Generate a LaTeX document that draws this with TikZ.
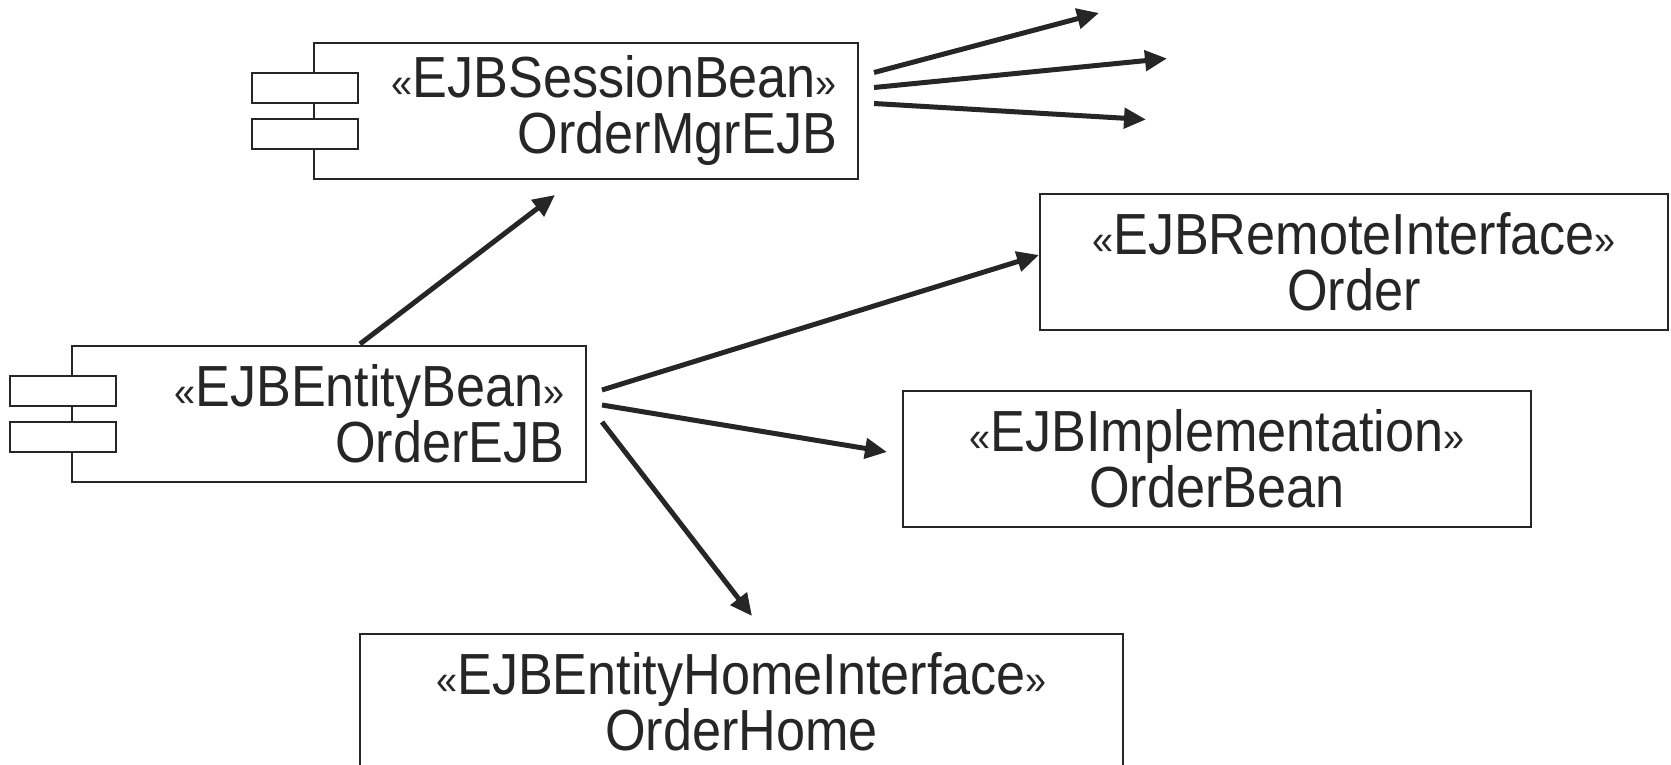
\documentclass[tikz,border=0pt]{standalone}
\usepackage{fontspec}
\setmainfont[FakeStretch=0.9]{Liberation Sans}
\usetikzlibrary{arrows.meta}
\definecolor{ink}{HTML}{262626}
\newcommand{\stereo}[1]{{\fontsize{21}{21}\selectfont«}#1{\fontsize{21}{21}\selectfont»}}
\begin{document}
\begin{tikzpicture}[x=0.5pt,y=-0.5pt,>={Triangle[length=11pt,width=10pt]},
    box/.style={draw=ink,line width=1pt,inner sep=0pt,minimum height=68pt,
        font=\fontsize{29}{28}\selectfont,text=ink},
    port/.style={draw=ink,fill=white,line width=1pt,inner sep=0pt,
        minimum width=53pt,minimum height=15pt},
    link/.style={->,draw=ink,line width=2.5pt}]
    \useasboundingbox (0,0) rectangle (1671,765);
    \clip (0,0) rectangle (1671,765);

    % Componentes
    \node[box,minimum width=272pt,text width=251pt,align=right] (session) at (586,111)
        {\stereo{EJBSessionBean}\\OrderMgrEJB};
    \node[port] (sessiontop) at ([xshift=-4pt,yshift=11.5pt]session.west) {};
    \node[port] (sessionbot) at ([xshift=-4pt,yshift=-11.5pt]session.west) {};

    \node[box,minimum width=257pt,text width=236pt,align=right] (entity) at (328.5,414)
        {\stereo{EJBEntityBean}\\OrderEJB};
    \node[port] (entitytop) at ([xshift=-4pt,yshift=11.5pt]entity.west) {};
    \node[port] (entitybot) at ([xshift=-4pt,yshift=-11.5pt]entity.west) {};

    % Clases
    \node[box,minimum width=314pt,align=center] (remote) at (1354,262)
        {\stereo{EJBRemoteInterface}\\Order};
    \node[box,minimum width=314pt,align=center] (impl) at (1217,459)
        {\stereo{EJBImplementation}\\OrderBean};
    \node[box,minimum width=381.5pt,align=center] (home) at (741.5,702)
        {\stereo{EJBEntityHomeInterface}\\OrderHome};

    % Extremos de las flechas
    \coordinate (toSession) at (555,195);
    \coordinate (fromEntityA) at (360,344);
    \coordinate (fromEntityB) at (602,390);
    \coordinate (fromEntityC) at (602,405);
    \coordinate (fromEntityD) at (602,422);
    \coordinate (toRemote) at (1039,255);
    \coordinate (toImpl) at (887,452);
    \coordinate (toHome) at (752,616);
    \coordinate (fromSessionA) at (874,72.5);
    \coordinate (fromSessionB) at (874,87.5);
    \coordinate (fromSessionC) at (874,103.5);
    \coordinate (outA) at (1099,13);
    \coordinate (outB) at (1167,58.5);
    \coordinate (outC) at (1146,119.5);

    % Dependencias
    \draw[link] (fromEntityA) -- (toSession);
    \draw[link] (fromEntityB) -- (toRemote);
    \draw[link] (fromEntityC) -- (toImpl);
    \draw[link] (fromEntityD) -- (toHome);
    \draw[link] (fromSessionA) -- (outA);
    \draw[link] (fromSessionB) -- (outB);
    \draw[link] (fromSessionC) -- (outC);
\end{tikzpicture}
\end{document}
